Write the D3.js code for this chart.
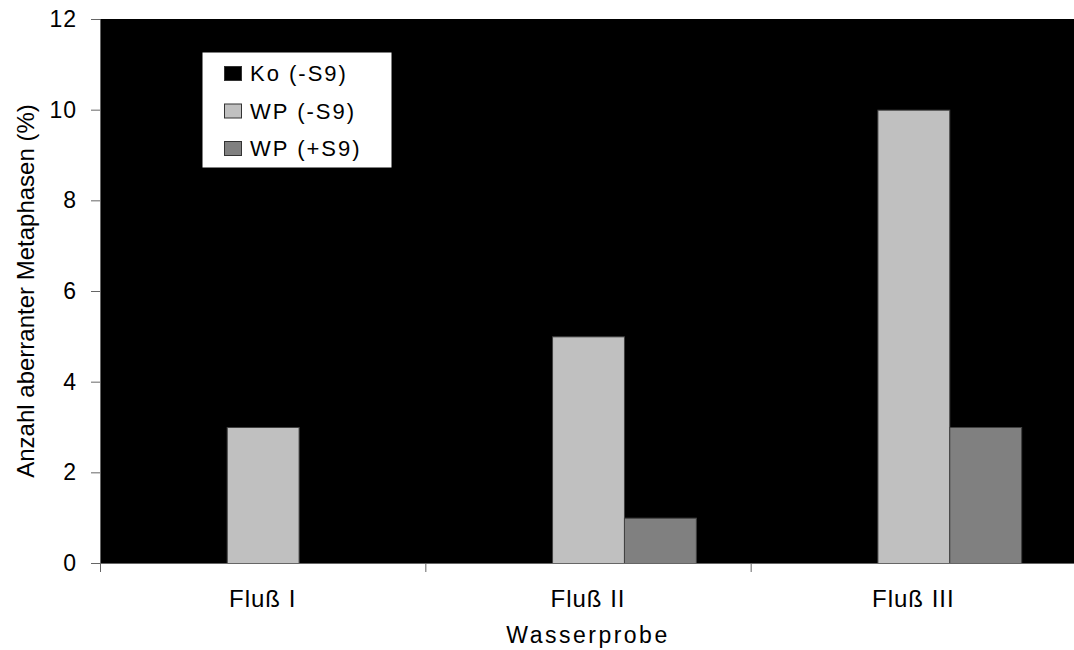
<!DOCTYPE html>
<html>
<head>
<meta charset="utf-8">
<script src="https://cdn.jsdelivr.net/npm/d3@7"></script>
<style>
  body { margin: 0; background: #fff; }
  text { font-family: "Liberation Sans", Arial, sans-serif; fill: #000; }
</style>
</head>
<body>
<script>
// chart data
var categories = ["Fluß I", "Fluß II", "Fluß III"];
var seriesNames = ["Ko (-S9)", "WP (-S9)", "WP (+S9)"];
var koValues = [0, 0, 0];
var wpMinusValues = [3, 5, 10];
var wpPlusValues = [0, 1, 3];
var yTicks = [0, 2, 4, 6, 8, 10, 12];

var seriesColors = ["#000000", "#c0c0c0", "#808080"];
var seriesValues = [koValues, wpMinusValues, wpPlusValues];

var width = 1074, height = 650;
var margin = {top: 19, right: -2, bottom: 87, left: 100};
var innerW = width - margin.left - margin.right;
var innerH = height - margin.top - margin.bottom;

var svg = d3.select("body").append("svg")
    .attr("width", width)
    .attr("height", height);

var g = svg.append("g")
    .attr("transform", "translate(" + margin.left + "," + margin.top + ")");

var x = d3.scaleBand().domain(categories).range([0, innerW]);
var barW = x.bandwidth() * 0.221;
var x1 = d3.scaleBand().domain(seriesNames)
    .range([x.bandwidth() / 2 - 1.5 * barW, x.bandwidth() / 2 + 1.5 * barW]);
var y = d3.scaleLinear().domain([0, 12]).range([innerH, 0]);

// black plot area
g.append("rect")
    .attr("width", innerW)
    .attr("height", innerH)
    .attr("fill", "#000");

// bars
var rows = categories.map(function(c, i) {
    return seriesNames.map(function(s, j) {
        return {cat: c, series: s, value: seriesValues[j][i], color: seriesColors[j]};
    });
});

g.selectAll("g.cat")
    .data(rows)
    .enter().append("g").attr("class", "cat")
    .attr("transform", function(d, i) { return "translate(" + x(categories[i]) + ",0)"; })
    .selectAll("rect")
    .data(function(d) { return d.filter(function(b) { return b.value > 0; }); })
    .enter().append("rect")
    .attr("x", function(d) { return x1(d.series) + 0.5; })
    .attr("y", function(d) { return y(d.value) + 0.5; })
    .attr("width", x1.bandwidth())
    .attr("height", function(d) { return innerH - y(d.value); })
    .attr("fill", function(d) { return d.color; })
    .attr("stroke", "#404040")
    .attr("stroke-width", 1);

// y axis
var yAxis = g.append("g")
    .call(d3.axisLeft(y).tickValues(yTicks).tickSize(9).tickPadding(14));
yAxis.select(".domain").attr("stroke", "#666");
yAxis.selectAll(".tick line").attr("stroke", "#666");
yAxis.selectAll("text").style("font-size", "23px").style("letter-spacing", "1px").attr("fill", "#000");

// x axis
var xAxis = g.append("g")
    .attr("transform", "translate(0," + innerH + ")")
    .call(d3.axisBottom(x).tickSize(0).tickPadding(27));
xAxis.select(".domain").attr("stroke", "#666");
xAxis.selectAll("text").style("font-size", "24px").style("letter-spacing", "1px").attr("fill", "#000");

// category separators on x axis
g.append("g").selectAll("line")
    .data(categories)
    .enter().append("line")
    .attr("x1", function(d) { return x(d) + 0.5; })
    .attr("x2", function(d) { return x(d) + 0.5; })
    .attr("y1", innerH)
    .attr("y2", innerH + 9)
    .attr("stroke", "#666");

// axis titles
svg.append("text")
    .attr("transform", "translate(34," + (margin.top + innerH / 2) + ") rotate(-90)")
    .attr("text-anchor", "middle")
    .style("font-size", "24px")
    .text("Anzahl aberranter Metaphasen (%)");

svg.append("text")
    .attr("x", margin.left + innerW / 2)
    .attr("y", 643)
    .attr("text-anchor", "middle")
    .style("font-size", "23px")
    .style("letter-spacing", "2.5px")
    .text("Wasserprobe");

// legend
var legend = svg.append("g").attr("transform", "translate(202,52)");
legend.append("rect")
    .attr("width", 190)
    .attr("height", 116)
    .attr("fill", "#fff")
    .attr("stroke", "#000");

var items = legend.selectAll("g.item")
    .data(seriesNames)
    .enter().append("g").attr("class", "item")
    .attr("transform", function(d, i) { return "translate(22," + (29 + i * 37.5) + ")"; });

items.append("rect")
    .attr("x", 0.5).attr("y", -14.5)
    .attr("width", 17).attr("height", 14)
    .attr("fill", function(d, i) { return seriesColors[i]; })
    .attr("stroke", "#333");

items.append("text")
    .attr("x", 26)
    .attr("y", 0)
    .style("font-size", "22px")
    .style("letter-spacing", "2px")
    .text(function(d) { return d; });
</script>
</body>
</html>
